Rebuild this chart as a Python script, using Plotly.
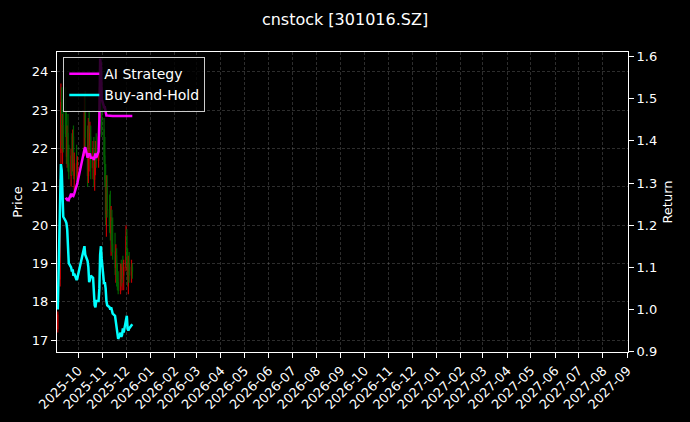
import plotly.graph_objects as go

dates = [
    "2025-09-05", "2025-09-08", "2025-09-09", "2025-09-10", "2025-09-11", "2025-09-12",
    "2025-09-15", "2025-09-16", "2025-09-17", "2025-09-18", "2025-09-19",
    "2025-09-22", "2025-09-23", "2025-09-24", "2025-09-25", "2025-09-26",
    "2025-09-29", "2025-09-30",
    "2025-10-09", "2025-10-10",
    "2025-10-13", "2025-10-14", "2025-10-15", "2025-10-16", "2025-10-17",
    "2025-10-20", "2025-10-21", "2025-10-22", "2025-10-23", "2025-10-24",
    "2025-10-27", "2025-10-28", "2025-10-29", "2025-10-30", "2025-10-31",
    "2025-11-03", "2025-11-04", "2025-11-05", "2025-11-06", "2025-11-07",
    "2025-11-10", "2025-11-11", "2025-11-12", "2025-11-13", "2025-11-14",
    "2025-11-17", "2025-11-18", "2025-11-19", "2025-11-20", "2025-11-21",
    "2025-11-24", "2025-11-25", "2025-11-26", "2025-11-27", "2025-11-28",
    "2025-12-01", "2025-12-02", "2025-12-03", "2025-12-04", "2025-12-05",
    "2025-12-08", "2025-12-09",
]

open_px = [17.30, 18.60, 21.90, 23.00, 22.10, 22.60,
           23.00, 22.40, 21.80, 22.40, 21.60,
           21.30, 21.80, 21.50, 22.30, 21.30,
           21.60, 21.20,
           22.00, 23.00,
           22.00, 21.30, 22.50, 22.10, 22.30,
           21.50, 22.00, 21.20, 21.60, 21.90,
           21.70, 22.40, 23.40, 23.80, 23.00,
           22.50, 21.80, 21.20, 20.30, 21.00,
           20.40, 20.00, 19.80, 20.10, 19.50,
           19.30, 18.90, 19.20, 18.60, 18.50,
           18.30, 18.80, 18.60, 18.90, 18.70,
           18.90, 19.70, 19.00, 18.60, 19.00,
           18.70, 18.90]
high_px = [17.75, 21.20, 23.70, 23.60, 22.90, 23.30,
           23.60, 23.00, 22.60, 22.90, 22.10,
           22.00, 22.40, 22.50, 22.60, 21.90,
           22.10, 21.80,
           23.40, 23.50,
           22.60, 22.80, 23.00, 22.70, 22.60,
           22.20, 22.30, 21.80, 22.20, 22.40,
           22.50, 23.60, 24.20, 24.10, 23.40,
           22.80, 22.30, 21.60, 21.30, 21.30,
           20.80, 20.90, 20.50, 20.40, 20.20,
           19.80, 19.50, 19.40, 19.00, 18.80,
           19.00, 19.10, 19.00, 19.20, 19.10,
           20.00, 19.90, 19.40, 19.20, 19.30,
           19.10, 19.00]
low_px = [17.20, 18.40, 21.50, 22.00, 21.60, 21.90,
          22.30, 21.60, 21.50, 21.40, 21.20,
          21.00, 21.30, 21.40, 21.20, 20.90,
          21.00, 21.00,
          21.80, 22.00,
          21.00, 21.10, 21.90, 21.40, 21.20,
          21.20, 21.00, 20.90, 21.30, 21.50,
          21.50, 22.20, 22.80, 22.90, 22.30,
          21.60, 21.00, 20.00, 19.70, 20.20,
          19.80, 19.60, 19.20, 19.30, 19.10,
          18.70, 18.50, 18.40, 18.30, 18.20,
          18.20, 18.40, 18.30, 18.50, 18.30,
          18.80, 18.90, 18.40, 18.20, 18.50,
          18.50, 18.60]
close_px = [17.65, 21.18, 23.20, 22.20, 22.60, 22.00,
            22.40, 21.80, 22.30, 21.60, 21.40,
            21.80, 21.50, 22.30, 21.30, 21.60,
            21.20, 21.60,
            23.00, 22.30,
            21.30, 22.50, 22.10, 22.40, 21.50,
            22.00, 21.20, 21.60, 21.90, 21.70,
            22.30, 23.40, 23.90, 23.10, 22.50,
            21.80, 21.20, 20.20, 21.00, 20.40,
            20.00, 19.80, 20.20, 19.50, 19.30,
            18.90, 19.20, 18.60, 18.50, 18.30,
            18.80, 18.60, 18.90, 18.70, 18.90,
            19.70, 19.00, 18.60, 19.00, 18.70,
            18.90, 18.80]

buy_hold = [1.000, 1.250, 1.345, 1.330, 1.240, 1.220,
            1.210, 1.205, 1.190, 1.140, 1.110,
            1.100, 1.090, 1.095, 1.080, 1.085,
            1.070, 1.075,
            1.150, 1.130,
            1.115, 1.100, 1.065, 1.070, 1.080,
            1.075, 1.030, 1.010, 1.005, 1.020,
            1.020, 1.050, 1.130, 1.150, 1.120,
            1.060, 1.065, 1.050, 1.020, 1.010,
            1.005, 1.000, 1.005, 0.995, 0.990,
            0.985, 0.970, 0.955, 0.940, 0.930,
            0.945, 0.935, 0.940, 0.955, 0.945,
            0.980, 0.985, 0.955, 0.950, 0.955,
            0.965, 0.965]

ai_strategy = [None, None, None, None, None, None,
               1.265, 1.262, 1.260, 1.262, 1.260,
               1.275, 1.270, 1.272, 1.270, 1.275,
               1.290, 1.300,
               1.380, 1.385,
               1.360, 1.370, 1.365, 1.370, 1.360,
               1.360, 1.355, 1.365, 1.370, 1.360,
               1.375, 1.450, 1.595, 1.580, 1.500,
               1.480, 1.480, 1.470, 1.460, 1.460,
               1.459, 1.459, 1.459, 1.459, 1.459,
               1.459, 1.459, 1.459, 1.459, 1.459,
               1.459, 1.459, 1.459, 1.459, 1.459,
               1.459, 1.459, 1.459, 1.459, 1.459,
               1.459, 1.459]

title_text = "cnstock [301016.SZ]"

fig = go.Figure()

fig.add_trace(go.Candlestick(
    x=dates, open=open_px, high=high_px, low=low_px, close=close_px,
    increasing=dict(line=dict(color="#ff0000", width=1.2), fillcolor="#ff0000"),
    decreasing=dict(line=dict(color="#008000", width=1.2), fillcolor="#008000"),
    opacity=0.75, showlegend=False, name="Price",
))

fig.add_trace(go.Scatter(
    x=dates, y=ai_strategy, mode="lines", name="AI Strategy",
    line=dict(color="#ff00ff", width=2.5), yaxis="y2",
))
fig.add_trace(go.Scatter(
    x=dates, y=buy_hold, mode="lines", name="Buy-and-Hold",
    line=dict(color="#00ffff", width=2.5), yaxis="y2",
))

grid = "rgba(150,150,150,0.3)"
fig.update_layout(
    width=690, height=422,
    paper_bgcolor="#000000", plot_bgcolor="#000000",
    font=dict(family="DejaVu Sans", color="white", size=13),
    margin=dict(l=57, r=62, t=52, b=70, autoexpand=False),
    title=dict(text=title_text, x=0.5, xanchor="center", yref="container",
               y=0.953, yanchor="middle",
               font=dict(size=16, color="white")),
    xaxis=dict(
        type="date", range=["2025-09-04", "2027-09-02"], automargin=False,
        tick0="2025-10-01", dtick="M1", tickformat="%Y-%m", tickangle=-45,
        showline=True, linecolor="white", linewidth=1, mirror=True,
        ticks="outside", tickcolor="white", ticklen=5,
        showgrid=True, gridcolor=grid, griddash="3px,2px", gridwidth=0.6,
        rangeslider=dict(visible=False), zeroline=False,
        tickfont=dict(size=13),
    ),
    yaxis=dict(
        title=dict(text="Price", font=dict(size=13), standoff=6),
        range=[16.69, 24.52], dtick=1, tick0=17, automargin=False,
        showline=True, linecolor="white", linewidth=1, mirror=True,
        ticks="outside", tickcolor="white", ticklen=5,
        showgrid=True, gridcolor=grid, griddash="3px,2px", gridwidth=0.6,
        zeroline=False, tickfont=dict(size=13),
    ),
    yaxis2=dict(
        title=dict(text="Return", font=dict(size=13), standoff=6),
        overlaying="y", side="right", automargin=False,
        range=[0.899, 1.611], dtick=0.1, tick0=0.9, tickformat=".1f",
        showline=True, linecolor="white", linewidth=1,
        ticks="outside", tickcolor="white", ticklen=5,
        showgrid=False, zeroline=False, tickfont=dict(size=13),
    ),
    legend=dict(
        x=0.011, y=0.983, xanchor="left", yanchor="top",
        bgcolor="rgba(0,0,0,0.8)", bordercolor="#cccccc", borderwidth=1,
        font=dict(size=14, color="white"), tracegroupgap=2,
    ),
)

fig.write_html(
    "out.html",
    config={"displayModeBar": False},
    post_script="document.body.style.margin='0';document.body.style.background='#000';",
)
